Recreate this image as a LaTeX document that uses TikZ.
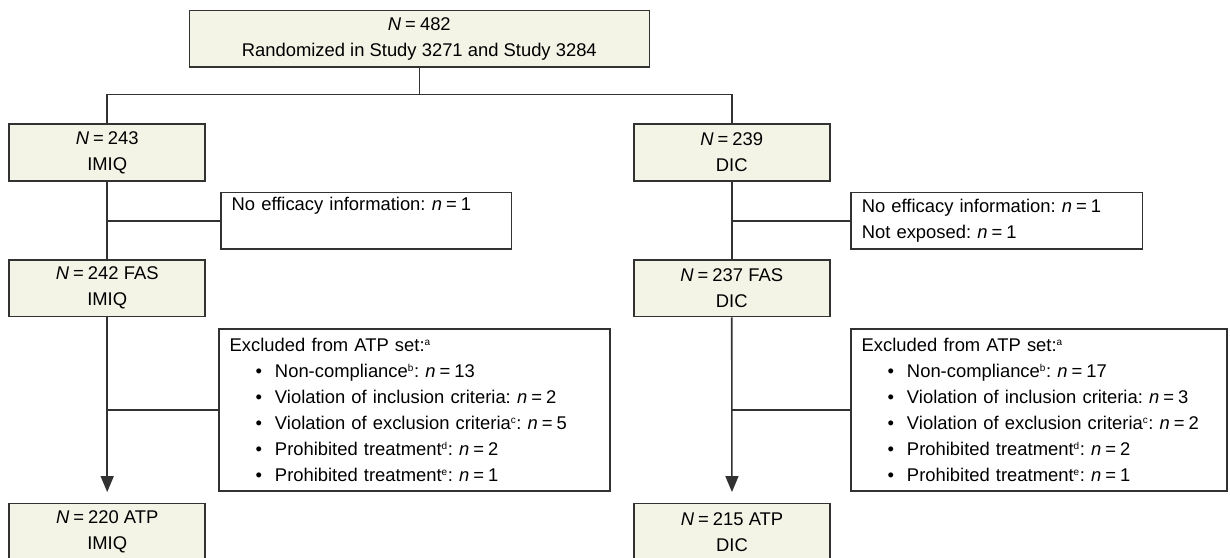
\documentclass[tikz,border=0pt]{standalone}
\usepackage{fontspec}
\setmainfont{Liberation Sans}
\usetikzlibrary{arrows.meta}
\frenchspacing
\definecolor{boxfill}{RGB}{243,244,230}
\definecolor{linegray}{RGB}{50,50,50}
\newcommand{\bigN}[1]{\textit{N}\hspace{0.22em}=\hspace{0.22em}#1}
\newcommand{\smalln}[1]{\textit{n}\hspace{0.22em}=\hspace{0.22em}#1}
\newcommand{\fnm}[1]{\textsuperscript{\fontsize{10}{10}\selectfont #1}}
\newcommand{\itm}[1]{\hspace*{26pt}\makebox[19.3pt][l]{\textbullet}#1}

\begin{document}
\begin{tikzpicture}[x=1pt,y=-1pt,
  font=\fontsize{18.4}{26}\selectfont,
  arm/.style={draw=linegray,fill=boxfill,line width=1.6pt,inner sep=0pt,
              minimum width=196pt,minimum height=56.5pt,align=center},
  info/.style={draw=linegray,line width=1.6pt,inner xsep=10.7pt,inner ysep=0pt,align=left},
  link/.style={draw=linegray,line width=1.6pt},
  tip/.style={-{Triangle[width=13pt,length=16pt]},shorten >=10.6pt}]
\useasboundingbox (0,0) rectangle (1230,557);
%randomized
\node[arm,minimum width=460pt] (rand) at (419.3,38.7) {\bigN{482}\\Randomized in Study 3271 and Study 3284};
\node[arm] (imiq) at (107.2,152.5) {\bigN{243}\\IMIQ};
\node[arm] (dic) at (731.7,152.5) {\bigN{239}\\DIC};
\coordinate (split) at (419.3,94.3);
\draw[link] (rand) -- (split);
\draw[link] (imiq) |- (split) -| (dic);
%full analysis set
\node[info,text width=269.3pt,minimum height=56.5pt] (lossL) at (366.3,220.7) {No efficacy information: \smalln{1}\\\strut};
\node[info,text width=269.9pt,minimum height=56.5pt] (lossR) at (996.7,220.7) {No efficacy information: \smalln{1}\\Not exposed: \smalln{1}};
\node[arm] (fasL) at (107.2,288.3) {\bigN{242} FAS\\IMIQ};
\node[arm] (fasR) at (731.7,288.3) {\bigN{237} FAS\\DIC};
\draw[link] (imiq) -- (fasL);
\draw[link] (dic) -- (fasR);
\draw[link] (lossL) -- (lossL.west -| imiq);
\draw[link] (lossR) -- (lossR.west -| dic);
%ATP set
\node[info,text width=369.6pt,minimum height=161.7pt] (exclL) at (414.5,409.9) {Excluded from ATP set:\fnm{a}\\
  \itm{Non-compliance\fnm{b}: \smalln{13}}\\
  \itm{Violation of inclusion criteria: \smalln{2}}\\
  \itm{Violation of exclusion criteria\fnm{c}: \smalln{5}}\\
  \itm{Prohibited treatment\fnm{d}: \smalln{2}}\\
  \itm{Prohibited treatment\fnm{e}: \smalln{1}}};
\node[info,text width=354.6pt,minimum height=161.7pt] (exclR) at (1039,409.9) {Excluded from ATP set:\fnm{a}\\
  \itm{Non-compliance\fnm{b}: \smalln{17}}\\
  \itm{Violation of inclusion criteria: \smalln{3}}\\
  \itm{Violation of exclusion criteria\fnm{c}: \smalln{2}}\\
  \itm{Prohibited treatment\fnm{d}: \smalln{2}}\\
  \itm{Prohibited treatment\fnm{e}: \smalln{1}}};
\node[arm] (atpL) at (107.2,531.7) {\bigN{220} ATP\\IMIQ};
\node[arm] (atpR) at (732,531.7) {\bigN{215} ATP\\DIC};
\draw[link,tip] (fasL) -- (atpL);
\draw[link,tip] (fasR) -- (atpR);
\draw[link] (exclL) -- (exclL.west -| fasL);
\draw[link] (exclR) -- (exclR.west -| fasR);
\end{tikzpicture}
\end{document}
